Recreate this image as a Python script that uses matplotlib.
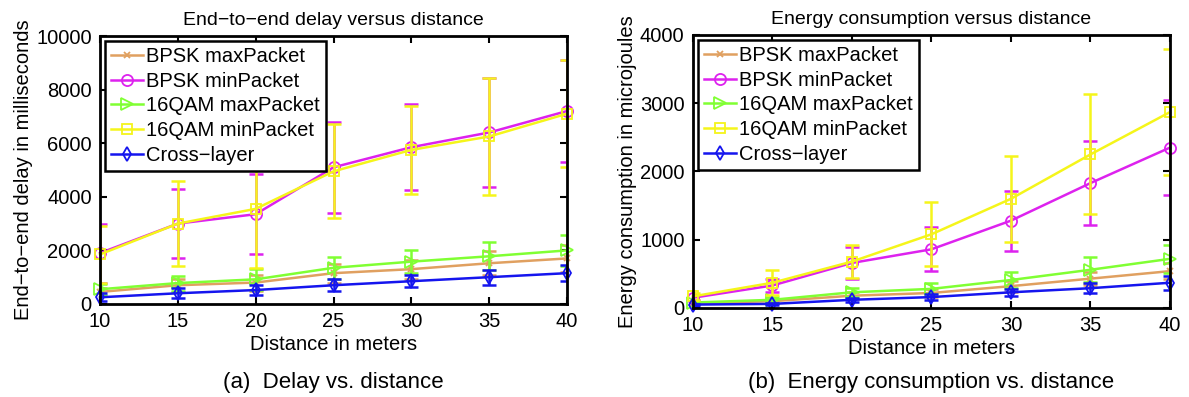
import numpy as np
from matplotlib import pyplot as plt

plt.rcParams['font.family'] = ['Liberation Sans', 'DejaVu Sans']
plt.rcParams['axes.unicode_minus'] = True

## data

dist = [10, 15, 20, 25, 30, 35, 40]
labels = ['BPSK maxPacket', 'BPSK minPacket', '16QAM maxPacket',
          '16QAM minPacket', 'Cross\u2212layer']

# (a) end-to-end delay, milliseconds
delay_bpsk_max = [450, 700, 800, 1150, 1300, 1520, 1700]
delay_bpsk_max_err = [150, 250, 300, 350, 350, 450, 500]
delay_bpsk_min = [1900, 3000, 3350, 5100, 5850, 6400, 7200]
delay_bpsk_min_err = [1100, 1300, 1500, 1700, 1600, 2050, 1900]
delay_qam_max = [550, 780, 920, 1350, 1580, 1780, 2000]
delay_qam_max_err = [200, 280, 400, 400, 430, 520, 570]
delay_qam_min = [1850, 3000, 3550, 4950, 5750, 6250, 7100]
delay_qam_min_err = [1050, 1580, 2200, 1750, 1650, 2200, 2000]
delay_cross = [250, 400, 520, 700, 850, 1000, 1150]
delay_cross_err = [150, 180, 200, 220, 230, 280, 300]

# (b) energy consumption, microjoules
en_bpsk_max = [70, 100, 180, 220, 320, 430, 540]
en_bpsk_max_err = [20, 30, 50, 60, 80, 100, 120]
en_bpsk_min = [150, 330, 660, 860, 1280, 1830, 2350]
en_bpsk_min_err = [40, 100, 230, 320, 440, 620, 690]
en_qam_max = [80, 120, 230, 280, 410, 560, 720]
en_qam_max_err = [20, 40, 70, 80, 120, 180, 200]
en_qam_min = [170, 370, 680, 1080, 1600, 2250, 2870]
en_qam_min_err = [50, 180, 240, 470, 630, 880, 920]
en_cross = [50, 60, 120, 160, 230, 290, 370]
en_cross_err = [15, 20, 30, 40, 50, 70, 100]

colors = ['#E0A060', '#DD22EE', '#80FF33', '#F5F51A', '#1515EE']
markers = ['x', 'o', '>', 's', 'd']
msizes = [5, 8, 8, 7, 7]


def draw(ax, series, errs, title, ylabel, ymax, yticks):
    for k in range(len(series)):
        ax.errorbar(dist, series[k], yerr=errs[k], fmt='none',
                    ecolor=colors[k], elinewidth=1.8, capsize=5,
                    capthick=1.8, zorder=2 + k * 0.1)
        ax.plot(dist, series[k], color=colors[k], marker=markers[k],
                ms=msizes[k], mfc='none', mew=1.3, lw=1.8, label=labels[k],
                clip_on=False, zorder=2.05 + k * 0.1)
    ax.set_xlim(10, 40)
    ax.set_ylim(0, ymax)
    ax.set_xticks(dist)
    ax.set_yticks(yticks)
    ax.tick_params(direction='in', top=True, right=True, labelsize=14.5,
                   length=5, width=1.5, pad=6)
    for s in ax.spines.values():
        s.set_linewidth(2)
        s.set_zorder(3)
    ax.set_title(title, fontsize=14, pad=8)
    ax.set_xlabel('Distance in meters', fontsize=14.5, labelpad=3)
    ax.set_ylabel(ylabel, fontsize=14.5, labelpad=2)
    leg = ax.legend(loc='upper left', fontsize=14.5, fancybox=False,
                    framealpha=1, edgecolor='black', handlelength=1.6,
                    handletextpad=0.15, borderpad=0.3, labelspacing=0.28,
                    borderaxespad=0.25)
    leg.get_frame().set_linewidth(1.8)
    leg.set_zorder(5)


fig = plt.figure(figsize=(11.89, 3.97), dpi=100)
ax1 = fig.add_axes([0.0841, 0.2343, 0.3928, 0.675])
ax2 = fig.add_axes([0.5828, 0.2242, 0.4012, 0.6877])

draw(ax1,
     [delay_bpsk_max, delay_bpsk_min, delay_qam_max, delay_qam_min, delay_cross],
     [delay_bpsk_max_err, delay_bpsk_min_err, delay_qam_max_err,
      delay_qam_min_err, delay_cross_err],
     'End\u2212to\u2212end delay versus distance',
     'End\u2212to\u2212end delay in milliseconds', 10000,
     [0, 2000, 4000, 6000, 8000, 10000])

draw(ax2,
     [en_bpsk_max, en_bpsk_min, en_qam_max, en_qam_min, en_cross],
     [en_bpsk_max_err, en_bpsk_min_err, en_qam_max_err, en_qam_min_err,
      en_cross_err],
     'Energy consumption versus distance',
     'Energy consumption in microjoules', 4000,
     [0, 1000, 2000, 3000, 4000])

fig.text(0.2805, 0.037, '(a)  Delay vs. distance', ha='center', va='center',
         fontsize=16)
fig.text(0.7834, 0.037, '(b)  Energy consumption vs. distance', ha='center',
         va='center', fontsize=16)

plt.savefig('out.png', dpi=100)
